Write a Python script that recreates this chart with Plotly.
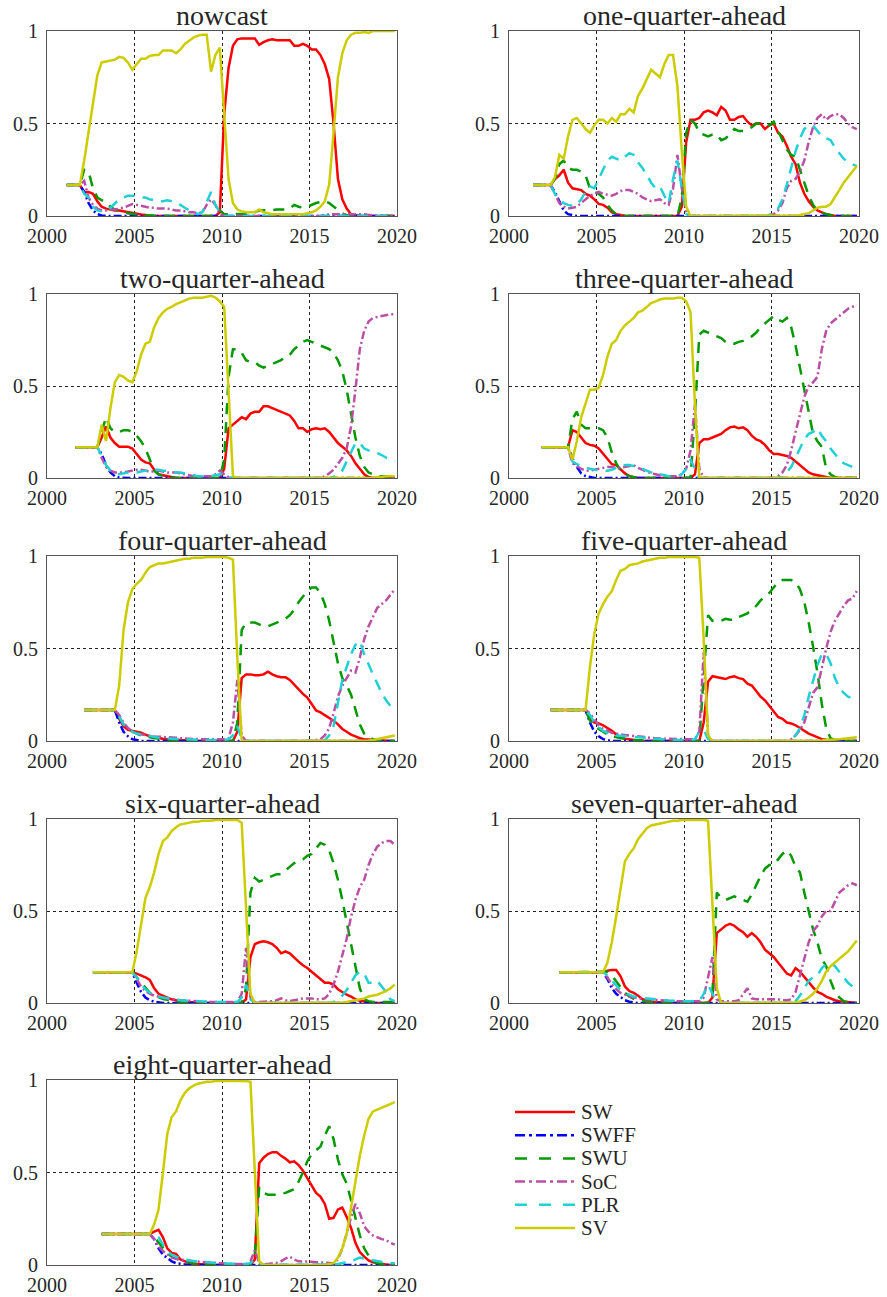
import plotly.graph_objects as go

# ---------------- data ----------------
TITLES = ["nowcast", "one-quarter-ahead", "two-quarter-ahead", "three-quarter-ahead",
          "four-quarter-ahead", "five-quarter-ahead", "six-quarter-ahead",
          "seven-quarter-ahead", "eight-quarter-ahead"]
SERIES = ["SW", "SWFF", "SWU", "SoC", "PLR", "SV"]
X_TICKS = [2000, 2005, 2010, 2015, 2020]
X_LABELS = ["2000", "2005", "2010", "2015", "2020"]
Y_TICKS = [0, 0.5, 1]
Y_LABELS = ["0", "0.5", "1"]
FIRST_QUARTER = 2001.125   # first date of the nowcast panel; each horizon starts one quarter later
QUARTER = 0.25

NOW_SW = [.167,.167,.167,.167,.13,.13,.12,.08,.05,.04,
          .035,.03,.03,.025,.02,.015,.01,.008,.005,0,
          0,0,0,0,0,0,0,0,0,0,
          0,0,0,0,0,.02,.55,.80,.92,.955,
          .96,.96,.96,.96,.925,.94,.95,.955,.95,.95,
          .95,.95,.92,.92,.93,.92,.90,.90,.87,.82,
          .74,.50,.20,.09,.04,.01,.005,0,0,0,
          0,0,0,0,0,0]
NOW_SWFF = [.167,.167,.167,.167,.13,.07,.03,.01,.003,0,
            0,0,0,0,0,0,0,0,0,0,
            0,0,0,0,0,0,0,0,0,0,
            0,0,0,0,0,0,0,0,0,0,
            0,0,0,0,0,0,0,0,0,0,
            0,0,0,0,0,0,0,0,0,0,
            0,0,0,0,0,0,0,0,0,0,
            0,0,0,0,0,0]
NOW_SWU = [.167,.167,.167,.167,.25,.24,.15,.10,.085,.08,
           .05,.035,.03,.025,.015,.01,.008,.005,.003,0,
           0,0,0,0,0,0,0,0,0,0,
           0,0,0,0,0,.03,.01,.01,.01,.01,
           .01,.012,.015,.02,.03,.03,.03,.032,.035,.035,
           .035,.04,.06,.05,.045,.05,.06,.07,.075,.08,
           .07,.05,.03,.015,.005,0,0,0,0,0,
           0,0,0,0,0,0]
NOW_SOC = [.167,.167,.167,.167,.19,.10,.06,.04,.03,.03,
           .035,.035,.04,.045,.055,.065,.06,.055,.05,.045,
           .045,.04,.04,.04,.035,.03,.03,.025,.02,.02,
           .015,.02,.06,.09,.06,.01,0,0,0,0,
           0,0,0,0,0,0,0,0,0,0,
           0,0,0,0,0,0,0,0,0,.005,
           .01,.01,.01,.01,.01,.01,.01,.01,.01,.005,
           .005,0,0,0,0,0]
NOW_PLR = [.167,.167,.167,.167,.12,.10,.05,.03,.025,.03,
           .045,.07,.09,.10,.11,.11,.105,.10,.10,.09,
           .085,.08,.08,.085,.08,.07,.06,.045,.03,.02,
           .01,.02,.08,.13,.06,.02,0,0,0,0,
           0,0,0,0,0,0,0,0,0,0,
           0,0,0,0,0,0,0,0,0,0,
           0,0,0,0,0,0,0,0,0,0,
           0,0,0,0,0,0]
NOW_SV = [.167,.167,.167,.167,.30,.45,.62,.76,.83,.835,
          .84,.845,.86,.855,.83,.79,.82,.85,.85,.865,
          .87,.87,.895,.895,.895,.88,.90,.93,.95,.965,
          .975,.98,.98,.78,.87,.91,.55,.20,.07,.035,
          .025,.02,.02,.02,.035,.02,.015,.01,.01,.01,
          .01,.01,.01,.01,.01,.015,.02,.03,.05,.08,
          .17,.45,.75,.88,.95,.98,.99,.99,.995,.99,
          1,1,1,1,1,1]

Q1_SW = [.167,.167,.167,.167,.167,.20,.22,.25,.18,.15,
         .145,.14,.12,.11,.09,.065,.06,.045,.02,.01,
         .005,0,0,0,0,0,0,0,0,0,
         0,0,0,0,.05,.40,.52,.52,.53,.56,
         .57,.56,.545,.59,.57,.52,.52,.535,.54,.51,
         .49,.50,.50,.47,.49,.50,.45,.43,.38,.32,
         .28,.18,.12,.08,.05,.03,.02,.01,.005,0,
         0,0,0,0,0]
Q1_SWFF = [.167,.167,.167,.167,.167,.13,.08,.03,.01,.003,
           0,0,0,0,0,0,0,0,0,0,
           0,0,0,0,0,0,0,0,0,0,
           0,0,0,0,0,0,0,0,0,0,
           0,0,0,0,0,0,0,0,0,0,
           0,0,0,0,0,0,0,0,0,0,
           0,0,0,0,0,0,0,0,0,0,
           0,0,0,0,0]
Q1_SWU = [.167,.167,.167,.167,.167,.20,.28,.30,.26,.25,
          .25,.24,.22,.15,.13,.12,.10,.06,.03,.01,
          .005,0,0,0,0,0,0,0,0,0,
          0,0,0,0,.10,.45,.52,.50,.45,.44,
          .43,.44,.44,.41,.42,.44,.47,.46,.46,.47,
          .48,.50,.50,.50,.49,.51,.46,.41,.36,.33,
          .32,.25,.18,.11,.06,.03,.015,.01,.005,0,
          0,0,0,0,0]
Q1_SOC = [.167,.167,.167,.167,.167,.12,.07,.05,.04,.045,
          .05,.07,.09,.11,.12,.13,.12,.115,.11,.12,
          .135,.14,.14,.13,.12,.10,.09,.08,.085,.09,
          .07,.06,.15,.33,.15,.02,0,0,0,0,
          0,0,0,0,0,0,0,0,0,0,
          0,0,0,0,.005,.01,.03,.07,.15,.19,
          .20,.24,.30,.40,.48,.53,.55,.52,.54,.55,
          .55,.53,.50,.48,.47]
Q1_PLR = [.167,.167,.167,.167,.167,.12,.09,.07,.06,.055,
          .06,.09,.13,.16,.15,.20,.25,.30,.32,.31,
          .30,.32,.34,.33,.29,.26,.22,.18,.15,.16,
          .11,.07,.20,.30,.15,.01,0,0,0,0,
          0,0,0,0,0,0,0,0,0,0,
          0,0,0,0,.005,.01,.04,.09,.17,.26,
          .35,.42,.47,.49,.49,.46,.43,.42,.41,.37,
          .34,.31,.29,.28,.27]
Q1_SV = [.167,.167,.167,.167,.167,.21,.33,.31,.43,.52,
         .53,.50,.47,.45,.49,.52,.52,.50,.53,.51,
         .55,.55,.58,.56,.65,.69,.74,.79,.77,.75,
         .82,.87,.87,.70,.35,.05,0,0,0,0,
         0,0,0,0,0,0,0,0,0,0,
         0,0,0,0,0,0,0,0,0,0,
         .002,.005,.01,.015,.03,.045,.05,.05,.065,.10,
         .14,.18,.21,.24,.27]

Q2_SW = [.167,.167,.167,.167,.167,.167,.22,.28,.22,.19,
         .17,.17,.17,.16,.13,.10,.085,.08,.045,.02,
         .015,.01,.005,0,0,0,0,0,0,0,
         0,0,0,0,.05,.27,.29,.31,.33,.32,
         .35,.36,.36,.39,.39,.38,.37,.36,.35,.34,
         .31,.27,.27,.25,.265,.27,.265,.27,.25,.22,
         .19,.17,.15,.12,.08,.05,.02,.005,0,0,
         0,0,0,0]
Q2_SWFF = [.167,.167,.167,.167,.167,.167,.13,.07,.03,.01,
           .003,0,0,0,0,0,0,0,0,0,
           0,0,0,0,0,0,0,0,0,0,
           0,0,0,0,0,0,0,0,0,0,
           0,0,0,0,0,0,0,0,0,0,
           0,0,0,0,0,0,0,0,0,0,
           0,0,0,0,0,0,0,0,0,0,
           0,0,0,0]
Q2_SWU = [.167,.167,.167,.167,.167,.167,.25,.33,.27,.25,
          .25,.26,.26,.25,.23,.20,.16,.10,.04,.02,
          .01,.005,0,0,0,0,0,0,0,0,
          0,0,0,0,.10,.55,.70,.70,.68,.64,
          .63,.63,.61,.60,.61,.62,.63,.64,.66,.67,
          .70,.72,.74,.75,.74,.73,.72,.71,.70,.68,
          .64,.58,.48,.35,.22,.12,.06,.03,.02,.01,
          .01,.01,.01,.01]
Q2_SOC = [.167,.167,.167,.167,.167,.167,.11,.06,.04,.03,
          .03,.03,.035,.04,.045,.045,.04,.035,.035,.04,
          .035,.03,.03,.03,.025,.02,.015,.01,.01,.01,
          .01,.01,.02,.04,.02,.005,0,0,0,0,
          0,0,0,0,0,0,0,0,0,0,
          0,0,0,0,0,0,0,.01,.025,.045,
          .075,.11,.16,.28,.48,.70,.80,.85,.87,.875,
          .88,.885,.89,.89]
Q2_PLR = [.167,.167,.167,.167,.167,.167,.12,.07,.04,.025,
          .02,.025,.03,.03,.03,.035,.04,.04,.045,.045,
          .04,.04,.035,.03,.03,.025,.02,.015,.01,.01,
          .01,.01,.015,.02,.02,.005,0,0,0,0,
          0,0,0,0,0,0,0,0,0,0,
          0,0,0,0,0,0,0,0,0,.005,
          .02,.04,.09,.14,.19,.19,.16,.15,.14,.135,
          .125,.11,.10,.09]
Q2_SV = [.167,.167,.167,.167,.167,.167,.29,.20,.38,.52,
         .56,.55,.53,.52,.58,.67,.73,.74,.82,.87,
         .90,.92,.93,.945,.955,.965,.975,.98,.98,.98,
         .985,.99,.98,.96,.93,.45,.01,0,0,0,
         0,0,0,0,0,0,0,0,0,0,
         0,0,0,0,0,0,0,0,0,0,
         0,0,0,0,0,0,0,0,0,.005,
         .005,.01,.01,.01]

Q3_SW = [.167,.167,.167,.167,.167,.167,.167,.26,.25,.22,
         .19,.18,.175,.16,.13,.10,.075,.07,.045,.025,
         .01,.005,0,0,0,0,0,0,0,0,
         0,0,0,0,0,.02,.19,.21,.21,.22,
         .23,.24,.26,.275,.28,.27,.275,.26,.23,.21,
         .20,.18,.15,.13,.13,.125,.12,.11,.09,.07,
         .05,.03,.02,.015,.008,.005,0,0,0,0,
         0,0,0]
Q3_SWFF = [.167,.167,.167,.167,.167,.167,.167,.11,.06,.025,
           .01,.005,0,0,0,0,0,0,0,0,
           0,0,0,0,0,0,0,0,0,0,
           0,0,0,0,0,0,0,0,0,0,
           0,0,0,0,0,0,0,0,0,0,
           0,0,0,0,0,0,0,0,0,0,
           0,0,0,0,0,0,0,0,0,0,
           0,0,0]
Q3_SWU = [.167,.167,.167,.167,.167,.167,.167,.32,.36,.29,
          .27,.27,.27,.27,.26,.22,.14,.08,.04,.02,
          .01,.005,0,0,0,0,0,0,0,0,
          0,0,0,0,0,.35,.78,.80,.79,.78,
          .77,.76,.74,.73,.73,.74,.745,.76,.77,.79,
          .82,.84,.86,.88,.86,.85,.87,.82,.72,.60,
          .48,.34,.24,.20,.17,.05,.02,.005,0,0,
          0,0,0]
Q3_SOC = [.167,.167,.167,.167,.167,.167,.167,.08,.065,.05,
          .04,.04,.045,.05,.055,.06,.06,.055,.055,.06,
          .065,.07,.055,.045,.035,.025,.02,.015,.015,.01,
          .01,.01,.02,.05,.15,.40,.05,0,0,0,
          0,0,0,0,0,0,0,0,0,0,
          0,0,0,0,.01,.03,.07,.15,.25,.35,
          .44,.50,.52,.55,.70,.80,.84,.86,.88,.90,
          .92,.93,.94]
Q3_PLR = [.167,.167,.167,.167,.167,.167,.167,.09,.075,.065,
          .055,.05,.045,.04,.04,.04,.045,.055,.065,.07,
          .07,.065,.06,.05,.04,.03,.02,.02,.015,.01,
          .01,.01,.02,.05,.10,.05,0,0,0,0,
          0,0,0,0,0,0,0,0,0,0,
          0,0,0,0,0,.005,.03,.06,.11,.16,
          .21,.24,.25,.27,.23,.20,.16,.13,.10,.08,
          .07,.06,.06]
Q3_SV = [.167,.167,.167,.167,.167,.167,.167,.10,.20,.33,
         .41,.48,.48,.49,.56,.66,.73,.75,.80,.83,
         .85,.87,.90,.91,.93,.95,.96,.97,.975,.975,
         .975,.98,.98,.96,.90,.40,.005,0,0,0,
         0,0,0,0,0,0,0,0,0,0,
         0,0,0,0,0,0,0,0,0,0,
         0,0,0,0,0,0,0,0,0,0,
         0,0,0]

Q4_SW = [.167,.167,.167,.167,.167,.167,.167,.167,.12,.08,
         .06,.055,.05,.045,.035,.025,.02,.015,.012,.01,
         .008,.005,.003,0,0,0,0,0,0,0,
         0,0,0,0,0,.05,.34,.36,.36,.355,
         .355,.36,.375,.36,.35,.345,.345,.33,.305,.275,
         .255,.235,.20,.165,.155,.14,.125,.11,.09,.065,
         .05,.035,.025,.015,.01,.008,.005,.003,0,0,
         0,0]
Q4_SWFF = [.167,.167,.167,.167,.167,.167,.167,.167,.10,.05,
           .025,.01,.005,0,0,0,0,0,0,0,
           0,0,0,0,0,0,0,0,0,0,
           0,0,0,0,0,0,0,0,0,0,
           0,0,0,0,0,0,0,0,0,0,
           0,0,0,0,0,0,0,0,0,0,
           0,0,0,0,0,0,0,0,0,0,
           0,0]
Q4_SWU = [.167,.167,.167,.167,.167,.167,.167,.167,.13,.09,
          .065,.05,.04,.03,.025,.02,.015,.012,.01,.008,
          .005,.003,0,0,0,0,0,0,0,0,
          0,0,0,0,0,.10,.60,.64,.64,.64,
          .63,.62,.62,.63,.64,.65,.66,.68,.71,.75,
          .78,.81,.83,.83,.80,.74,.65,.53,.42,.34,
          .30,.25,.17,.09,.04,.02,.01,.005,0,0,
          0,0]
Q4_SOC = [.167,.167,.167,.167,.167,.167,.167,.167,.14,.10,
          .07,.05,.04,.035,.03,.028,.025,.025,.022,.02,
          .02,.018,.015,.013,.012,.01,.01,.01,.01,.01,
          .01,.01,.01,.015,.10,.33,.03,0,0,0,
          0,0,0,0,0,0,0,0,0,0,
          0,0,0,.005,.01,.03,.07,.15,.24,.30,
          .34,.38,.37,.45,.55,.62,.67,.72,.74,.76,
          .79,.82]
Q4_PLR = [.167,.167,.167,.167,.167,.167,.167,.167,.13,.09,
          .065,.05,.04,.035,.03,.025,.02,.018,.015,.013,
          .01,.01,.01,.01,.008,.007,.005,.005,.005,.005,
          .005,.005,.005,.01,.03,.08,.01,0,0,0,
          0,0,0,0,0,0,0,0,0,0,
          0,0,0,0,0,.005,.03,.08,.20,.33,
          .40,.47,.52,.54,.47,.41,.36,.31,.26,.22,
          .19,.16]
Q4_SV = [.167,.167,.167,.167,.167,.167,.167,.167,.30,.60,
         .75,.82,.85,.87,.91,.94,.95,.96,.96,.965,
         .97,.975,.98,.985,.985,.99,.99,.99,.995,.995,
         .995,.995,.995,.99,.98,.45,0,0,0,0,
         0,0,0,0,0,0,0,0,0,0,
         0,0,0,0,0,0,0,0,0,0,
         0,0,0,0,0,.003,.005,.01,.015,.02,
         .022,.03]

Q5_SW = [.167,.167,.167,.167,.167,.167,.167,.167,.167,.12,
         .10,.095,.085,.07,.055,.035,.02,.012,.008,.005,
         .003,0,0,0,0,0,0,0,0,0,
         0,0,0,0,0,.10,.32,.35,.345,.34,
         .335,.345,.35,.34,.335,.31,.30,.27,.24,.22,
         .19,.16,.13,.12,.10,.095,.085,.07,.055,.04,
         .03,.02,.01,.007,.005,.003,0,0,0,0,
         0]
Q5_SWFF = [.167,.167,.167,.167,.167,.167,.167,.167,.167,.10,
           .05,.025,.01,.005,0,0,0,0,0,0,
           0,0,0,0,0,0,0,0,0,0,
           0,0,0,0,0,0,0,0,0,0,
           0,0,0,0,0,0,0,0,0,0,
           0,0,0,0,0,0,0,0,0,0,
           0,0,0,0,0,0,0,0,0,0,
           0]
Q5_SWU = [.167,.167,.167,.167,.167,.167,.167,.167,.167,.11,
          .08,.065,.05,.035,.025,.02,.015,.01,.008,.005,
          .003,0,0,0,0,0,0,0,0,0,
          0,0,0,0,0,.35,.68,.65,.645,.65,
          .66,.655,.655,.67,.68,.69,.71,.73,.76,.78,
          .80,.83,.86,.87,.87,.87,.86,.82,.75,.64,
          .51,.37,.20,.07,.015,.005,0,0,0,0,
          0]
Q5_SOC = [.167,.167,.167,.167,.167,.167,.167,.167,.167,.15,
          .12,.085,.065,.055,.045,.04,.035,.032,.03,.027,
          .025,.022,.02,.018,.015,.013,.012,.01,.01,.01,
          .01,.01,.01,.01,.05,.48,.03,0,0,0,
          0,0,0,0,0,0,0,0,0,0,
          0,0,0,0,0,.01,.03,.06,.10,.18,
          .26,.29,.40,.50,.59,.65,.69,.73,.76,.77,
          .81]
Q5_PLR = [.167,.167,.167,.167,.167,.167,.167,.167,.167,.14,
          .10,.075,.055,.045,.04,.03,.028,.025,.022,.02,
          .018,.015,.013,.012,.01,.01,.008,.006,.005,.005,
          .005,.005,.005,.01,.05,.06,.01,0,0,0,
          0,0,0,0,0,0,0,0,0,0,
          0,0,0,0,0,.01,.03,.07,.14,.24,
          .33,.41,.47,.47,.42,.34,.29,.26,.24,.23,
          .22]
Q5_SV = [.167,.167,.167,.167,.167,.167,.167,.167,.167,.40,
         .58,.69,.74,.78,.81,.87,.92,.93,.95,.955,
         .96,.97,.975,.98,.985,.99,.99,.995,.995,.995,
         .995,.995,.995,.995,.99,.55,.03,0,0,0,
         0,0,0,0,0,0,0,0,0,0,
         0,0,0,0,0,0,0,0,0,0,
         0,0,.003,.005,.005,.008,.01,.012,.015,.018,
         .02]

Q6_SW = [.167,.167,.167,.167,.167,.167,.167,.167,.167,.167,
         .16,.15,.14,.125,.08,.05,.04,.03,.02,.015,
         .01,.007,.005,.003,0,0,0,0,0,0,
         0,0,0,0,0,.02,.25,.32,.33,.335,
         .33,.32,.30,.27,.28,.27,.245,.225,.205,.19,
         .17,.15,.13,.11,.11,.10,.075,.06,.045,.035,
         .02,.012,.01,.005,0,0,0,0,0,0]
Q6_SWFF = [.167,.167,.167,.167,.167,.167,.167,.167,.167,.167,
           .11,.06,.03,.015,.007,.003,0,0,0,0,
           0,0,0,0,0,0,0,0,0,0,
           0,0,0,0,0,0,0,0,0,0,
           0,0,0,0,0,0,0,0,0,0,
           0,0,0,0,0,0,0,0,0,0,
           0,0,0,0,0,0,0,0,0,0]
Q6_SWU = [.167,.167,.167,.167,.167,.167,.167,.167,.167,.167,
          .14,.11,.08,.055,.04,.03,.022,.018,.012,.01,
          .007,.005,.003,0,0,0,0,0,0,0,
          0,0,0,0,0,.08,.60,.68,.66,.67,
          .68,.69,.70,.70,.72,.74,.76,.77,.78,.80,
          .81,.84,.87,.86,.83,.76,.67,.56,.44,.33,
          .20,.08,.02,.01,.005,.005,.005,.005,.005,.005]
Q6_SOC = [.167,.167,.167,.167,.167,.167,.167,.167,.167,.167,
          .13,.09,.065,.05,.04,.033,.028,.025,.02,.018,
          .015,.013,.012,.01,.01,.008,.007,.006,.005,.005,
          .005,.005,.005,.005,.05,.30,.03,.005,.005,.005,
          .008,.01,.015,.025,.015,.01,.015,.02,.025,.025,
          .025,.02,.02,.025,.05,.10,.17,.26,.35,.47,
          .56,.63,.67,.75,.81,.85,.87,.88,.88,.86]
Q6_PLR = [.167,.167,.167,.167,.167,.167,.167,.167,.167,.167,
          .14,.10,.075,.055,.045,.035,.03,.025,.02,.018,
          .015,.013,.012,.01,.01,.008,.007,.006,.005,.005,
          .005,.005,.005,.005,.03,.10,.02,0,0,0,
          0,0,0,0,0,0,0,0,0,0,
          0,0,0,0,0,.005,.015,.04,.07,.11,
          .15,.17,.16,.11,.11,.12,.09,.06,.02,.01]
Q6_SV = [.167,.167,.167,.167,.167,.167,.167,.167,.167,.167,
         .28,.43,.57,.63,.71,.81,.88,.90,.935,.955,
         .97,.975,.98,.985,.985,.99,.99,.99,.995,.995,
         .995,.995,.995,.995,.98,.55,.05,0,0,0,
         0,0,0,0,0,0,0,0,0,0,
         0,0,0,0,0,0,0,.003,.005,.01,
         .012,.02,.025,.035,.04,.045,.055,.065,.08,.10]

Q7_SW = [.167,.167,.167,.167,.167,.167,.167,.167,.167,.167,
         .167,.175,.18,.18,.145,.09,.065,.055,.04,.02,
         .012,.008,.005,.003,0,0,0,0,0,0,
         0,0,0,0,0,.03,.38,.40,.42,.43,
         .42,.40,.385,.36,.38,.36,.33,.29,.27,.25,
         .22,.19,.16,.15,.19,.17,.14,.11,.085,.06,
         .05,.035,.025,.015,.01,.007,.005,.003,0]
Q7_SWFF = [.167,.167,.167,.167,.167,.167,.167,.167,.167,.167,
           .167,.13,.08,.05,.03,.015,.007,.003,0,0,
           0,0,0,0,0,0,0,0,0,0,
           0,0,0,0,0,0,0,0,0,0,
           0,0,0,0,0,0,0,0,0,0,
           0,0,0,0,0,0,0,0,0,0,
           0,0,0,0,0,0,0,0,0]
Q7_SWU = [.167,.167,.167,.167,.167,.167,.167,.167,.167,.167,
          .167,.17,.15,.12,.085,.055,.035,.022,.015,.01,
          .007,.005,.003,0,0,0,0,0,0,0,
          0,0,0,0,0,.05,.60,.57,.56,.57,
          .58,.57,.56,.55,.59,.64,.69,.73,.75,.75,
          .78,.81,.83,.80,.74,.71,.60,.50,.40,.33,
          .24,.20,.12,.06,.03,.01,.005,0,0]
Q7_SOC = [.167,.167,.167,.167,.167,.167,.167,.167,.167,.167,
          .167,.14,.10,.075,.055,.045,.035,.03,.025,.022,
          .02,.018,.015,.013,.012,.01,.01,.01,.01,.01,
          .01,.01,.01,.03,.15,.25,.02,.01,.01,.01,
          .01,.015,.05,.08,.025,.02,.02,.02,.02,.02,
          .02,.015,.015,.02,.06,.15,.24,.33,.39,.42,
          .47,.50,.50,.55,.60,.62,.64,.65,.64]
Q7_PLR = [.167,.167,.167,.167,.167,.167,.167,.167,.167,.167,
          .167,.15,.12,.095,.07,.055,.045,.035,.03,.027,
          .025,.022,.02,.018,.015,.013,.012,.01,.01,.01,
          .01,.01,.01,.05,.10,.05,.005,0,0,0,
          0,0,0,0,0,0,0,0,0,0,
          0,0,0,0,.01,.04,.08,.12,.14,.15,
          .19,.21,.22,.20,.17,.14,.11,.09,.06]
Q7_SV = [.167,.167,.167,.167,.167,.167,.167,.167,.167,.167,
         .167,.22,.33,.47,.62,.77,.81,.84,.89,.92,
         .95,.965,.97,.975,.98,.985,.99,.99,.995,.995,
         .995,.995,.995,.995,.99,.55,.08,0,0,0,
         0,0,0,0,0,0,0,0,0,0,
         0,0,0,0,.003,.008,.015,.03,.05,.08,
         .12,.17,.20,.22,.24,.255,.28,.31,.34]

Q8_SW = [.167,.167,.167,.167,.167,.167,.167,.167,.167,.167,
         .167,.167,.18,.19,.15,.09,.065,.06,.03,.02,
         .01,.007,.005,.003,0,0,0,0,0,0,
         0,0,0,0,0,.03,.55,.58,.60,.61,
         .61,.59,.575,.555,.56,.54,.51,.47,.43,.39,
         .37,.33,.25,.255,.30,.31,.26,.20,.12,.07,
         .045,.025,.015,.01,.005,.003,0,0]
Q8_SWFF = [.167,.167,.167,.167,.167,.167,.167,.167,.167,.167,
           .167,.167,.14,.09,.055,.035,.02,.01,.005,.003,
           0,0,0,0,0,0,0,0,0,0,
           0,0,0,0,0,0,0,0,0,0,
           0,0,0,0,0,0,0,0,0,0,
           0,0,0,0,0,0,0,0,0,0,
           0,0,0,0,0,0,0,0]
Q8_SWU = [.167,.167,.167,.167,.167,.167,.167,.167,.167,.167,
          .167,.167,.15,.12,.09,.065,.045,.035,.025,.02,
          .012,.008,.005,.003,0,0,0,0,0,0,
          0,0,0,0,0,.05,.42,.39,.38,.38,
          .38,.385,.39,.40,.41,.45,.50,.56,.60,.62,
          .64,.70,.75,.68,.57,.49,.44,.35,.26,.16,
          .09,.05,.02,.01,.005,.003,0,0]
Q8_SOC = [.167,.167,.167,.167,.167,.167,.167,.167,.167,.167,
          .167,.167,.14,.10,.075,.055,.04,.033,.028,.025,
          .022,.02,.018,.015,.013,.011,.01,.008,.007,.006,
          .005,.005,.005,.005,.02,.08,.01,.005,.005,.008,
          .012,.02,.035,.045,.03,.02,.02,.02,.018,.015,
          .013,.01,.01,.01,.03,.09,.17,.26,.33,.28,
          .21,.18,.16,.15,.14,.135,.12,.11]
Q8_PLR = [.167,.167,.167,.167,.167,.167,.167,.167,.167,.167,
          .167,.167,.16,.15,.11,.075,.055,.045,.035,.03,
          .025,.022,.02,.017,.015,.012,.01,.009,.008,.007,
          .006,.005,.005,.005,.01,.03,.01,0,0,0,
          0,0,0,0,0,0,0,0,0,0,
          0,0,0,.003,.005,.01,.015,.02,.03,.04,
          .035,.03,.025,.02,.015,.012,.01,.01]
Q8_SV = [.167,.167,.167,.167,.167,.167,.167,.167,.167,.167,
         .167,.167,.22,.30,.50,.71,.80,.83,.89,.93,
         .955,.97,.98,.985,.99,.99,.995,.995,.995,.995,
         .995,.995,.995,.995,.99,.50,.02,0,0,0,
         0,0,0,0,0,0,0,0,0,0,
         0,0,.005,.01,.04,.09,.17,.30,.45,.59,
         .70,.79,.83,.84,.85,.86,.87,.88]

PANELS = [
    [NOW_SW, NOW_SWFF, NOW_SWU, NOW_SOC, NOW_PLR, NOW_SV],
    [Q1_SW, Q1_SWFF, Q1_SWU, Q1_SOC, Q1_PLR, Q1_SV],
    [Q2_SW, Q2_SWFF, Q2_SWU, Q2_SOC, Q2_PLR, Q2_SV],
    [Q3_SW, Q3_SWFF, Q3_SWU, Q3_SOC, Q3_PLR, Q3_SV],
    [Q4_SW, Q4_SWFF, Q4_SWU, Q4_SOC, Q4_PLR, Q4_SV],
    [Q5_SW, Q5_SWFF, Q5_SWU, Q5_SOC, Q5_PLR, Q5_SV],
    [Q6_SW, Q6_SWFF, Q6_SWU, Q6_SOC, Q6_PLR, Q6_SV],
    [Q7_SW, Q7_SWFF, Q7_SWU, Q7_SOC, Q7_PLR, Q7_SV],
    [Q8_SW, Q8_SWFF, Q8_SWU, Q8_SOC, Q8_PLR, Q8_SV],
]

# ---------------- styles / layout ----------------
W, H = 887, 1297
FONT = "Liberation Serif"
TEXT = "#262626"
COLORS = {"SW": "#FF0000", "SWFF": "#0000FF", "SWU": "#009900",
          "SoC": "#BB4FA6", "PLR": "#20D0D5", "SV": "#CCCC00"}
DASH = {"SW": "solid", "SWFF": "8px,3px,2px,3px", "SWU": "11px,8px",
        "SoC": "8px,3px,2px,3px", "PLR": "11px,8px", "SV": "solid"}
LEG_DASH = {"SW": "solid", "SWFF": "10px,4px,3px,4px", "SWU": "12px,12px",
            "SoC": "10px,4px,3px,4px", "PLR": "12px,12px", "SV": "solid"}
LW = 2.5
COL_PX = [(47, 397), (509, 859)]
ROW_PX = [(31, 216), (294, 478), (556, 741), (819, 1003), (1080, 1265)]


def px_x(p):
    return p / W


def px_y(p):
    return 1 - p / H


fig = go.Figure()
layout = {}
annotations = []
shapes = []

for i, series_vals in enumerate(PANELS):
    r, c = divmod(i, 2)
    n = i + 1
    xa = "x" if n == 1 else f"x{n}"
    ya = "y" if n == 1 else f"y{n}"
    start = FIRST_QUARTER + QUARTER * i
    for name, vals in zip(SERIES, series_vals):
        xs = [start + QUARTER * k for k in range(len(vals))]
        fig.add_trace(go.Scatter(
            x=xs, y=vals, mode="lines", name=name, xaxis=xa, yaxis=ya,
            showlegend=False,
            line=dict(color=COLORS[name], width=LW, dash=DASH[name])))
    x0, x1 = COL_PX[c]
    y0, y1 = ROW_PX[r]
    common = dict(showline=True, mirror=True, linecolor="#555555", linewidth=1,
                  showgrid=True, gridcolor="#222222", griddash="dot", gridwidth=1,
                  zeroline=False, ticks="", layer="below traces", automargin=False,
                  tickfont=dict(family=FONT, size=20, color=TEXT))
    layout["xaxis" if n == 1 else f"xaxis{n}"] = dict(
        domain=[px_x(x0), px_x(x1)], anchor=ya, range=[2000, 2020],
        tickmode="array", tickvals=X_TICKS, ticktext=X_LABELS,
        ticklabelstandoff=2, **common)
    layout["yaxis" if n == 1 else f"yaxis{n}"] = dict(
        domain=[px_y(y1), px_y(y0)], anchor=xa, range=[0, 1],
        tickmode="array", tickvals=Y_TICKS, ticktext=Y_LABELS,
        ticklabelstandoff=4, **common)
    annotations.append(dict(
        text=TITLES[i], x=px_x((x0 + x1) / 2), y=px_y(y0), xref="paper", yref="paper",
        xanchor="center", yanchor="bottom", showarrow=False, borderpad=0, yshift=-1,
        font=dict(family=FONT, size=28, color=TEXT)))

# legend (drawn in the empty tenth cell)
LEG_X0, LEG_X1, LEG_TEXT_X, LEG_Y0, LEG_DY = 515, 575, 580, 1112, 23.2
for j, name in enumerate(SERIES):
    yy = LEG_Y0 + j * LEG_DY
    shapes.append(dict(type="line", xref="paper", yref="paper",
                       x0=px_x(LEG_X0), x1=px_x(LEG_X1), y0=px_y(yy), y1=px_y(yy),
                       line=dict(color=COLORS[name], width=LW, dash=LEG_DASH[name])))
    annotations.append(dict(text=name, x=px_x(LEG_TEXT_X), y=px_y(yy),
                            xref="paper", yref="paper", xanchor="left", yanchor="middle",
                            showarrow=False, borderpad=0,
                            font=dict(family=FONT, size=21, color=TEXT)))

fig.update_layout(
    width=W, height=H, margin=dict(l=0, r=0, t=0, b=0, autoexpand=False),
    paper_bgcolor="white", plot_bgcolor="white",
    font=dict(family=FONT, color=TEXT),
    showlegend=False, annotations=annotations, shapes=shapes, **layout)

fig.write_html("out.html", config={"displayModeBar": False})
